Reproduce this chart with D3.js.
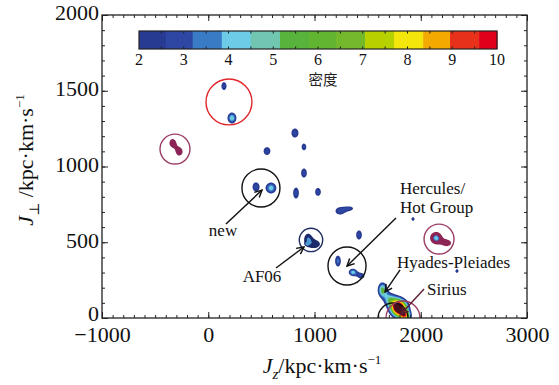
<!DOCTYPE html>
<html>
<head>
<meta charset="utf-8">
<script src="https://cdn.jsdelivr.net/npm/d3@7"></script>
<style>
  body { margin: 0; background: #fff; }
  svg { font-family: 'Liberation Serif', 'DejaVu Serif', serif; }
</style>
</head>
<body>
<svg id="chart" width="559" height="385"></svg>
<script>
// axis ticks
const xTicks = [-1000, 0, 1000, 2000, 3000];
const yTicks = [0, 500, 1000, 1500, 2000];
const barTicks = [2, 3, 4, 5, 6, 7, 8, 9, 10];

// density contour levels and their colours (last one = above the bar)
const densityLevels = [2, 2.6, 3.2, 3.85, 4.5, 5.15, 5.8, 6.4, 7.05, 7.7, 8.35, 8.95, 9.6, 10];
const levelColors = ['#283b93', '#2d47a3', '#3a7bc6', '#6ccbe6', '#71c6b2', '#58b33d', '#62b531',
  '#74b92b', '#b6d000', '#f3e60b', '#f4a900', '#e7311a', '#e1001b', '#4a0e1c'];

// blobs: [Jz, Jperp, half width in Jz, half width in Jperp, peak density]
const fieldBlobs = [
  [148, 1531, 24, 26, 2.8],
  [223, 1320, 42, 36, 4.6],
  [816, 1221, 33, 30, 2.9],
  [901, 1129, 22, 22, 2.8],
  [553, 1102, 32, 26, 2.9],
  [901, 957, 27, 30, 2.9],
  [826, 825, 27, 36, 2.9],
  [1033, 832, 27, 26, 2.9],
  [1240, 706, 42, 23, 2.9],
  [1334, 723, 26, 10, 2.4],
  [449, 865, 32, 30, 3.0],
  [591, 858, 50, 36, 4.4],
  [1927, 653, 15, 12, 2.4],
  [1419, 548, 27, 30, 2.9],
  [2341, 310, 15, 12, 2.4],
  [1221, 376, 27, 36, 3.5],
  [1360, 302, 38, 23, 4.3],
  [1440, 278, 30, 18, 2.8],
  [1640, 185, 45, 50, 5.6],
  [1700, 125, 40, 35, 3.5],
  [1760, 95, 50, 40, 3.6],
  [1800, 62, 100, 72, 11.6],
  [1855, 12, 55, 35, 6.5]
];

// highlighted groups
const maroonBlobs = [
  [-335, 1155, 30, 26, 3.0],
  [-272, 1098, 30, 26, 3.0],
  [2144, 528, 56, 40, 4.6],
  [2247, 495, 38, 20, 3.0]
];
const maroonLevels = [2, 3.9, 4.3];
const maroonColors = ['#8c2456', '#3a7bc6', '#6ccbe6'];

const af06Blobs = [
  [939, 528, 28, 26, 3.0],
  [995, 488, 56, 26, 3.0],
  [930, 488, 14, 8, 3.9]
];
const af06Levels = [2, 3.6];
const af06Colors = ['#1c2a6c', '#4a9bd6'];

// circles: [Jz, Jperp, radius in Jz units, group]
const circles = [
  [195, 1426, 216, 'red'],
  [-313, 1115, 141, 'maroon'],
  [496, 858, 179, 'black'],
  [967, 515, 110, 'navy'],
  [1306, 343, 179, 'black'],
  [2172, 521, 141, 'maroon'],
  [1739, 0, 141, 'black'],
  [1833, 0, 160, 'maroon']
];
const circleColors = { red: '#e2262b', maroon: '#9a3c64', black: '#111', navy: '#1e2b5e' };

// annotations: [lines, text Jz, text Jperp, anchor, arrow from, arrow to, colour]
const notes = [
  [['new'], 139, 541, 'middle', [167, 620], [506, 845], '#111'],
  [['AF06'], 506, 238, 'middle', [638, 330], [901, 469], '#111'],
  [['Hercules/', 'Hot Group'], 1805, 818, 'start', [1767, 660], [1306, 343], '#111'],
  [['Hyades-Pleiades'], 1776, 330, 'start', [1805, 317], [1664, 172], '#111'],
  [['Sirius'], 2059, 152, 'start', [2031, 191], [1814, 26], '#5b1f33']
];

const svg = d3.select('#chart');
const W = 559, H = 385;
const margin = { top: 15, right: 32, bottom: 67, left: 102 };
const pw = W - margin.left - margin.right;
const ph = H - margin.top - margin.bottom;

const x = d3.scaleLinear().domain([-1000, 3000]).range([margin.left, margin.left + pw]);
const y = d3.scaleLinear().domain([0, 2000]).range([margin.top + ph, margin.top]);

svg.append('rect').attr('width', W).attr('height', H).attr('fill', '#fff');

svg.append('defs').append('clipPath').attr('id', 'plotclip')
  .append('rect').attr('x', margin.left).attr('y', margin.top).attr('width', pw).attr('height', ph);

// density grid, one cell per pixel
const nx = Math.round(pw), ny = Math.round(ph);
function densityGrid(blobs) {
  const v = new Float64Array(nx * ny);
  blobs.forEach(([jz, jp, hx, hy, peak]) => {
    const f = Math.sqrt(2 * Math.log(peak / 2));
    const cx = x(jz) - margin.left, cy = y(jp) - margin.top;
    const sx = (x(jz + hx) - x(jz)) / f;
    const sy = (y(jp) - y(jp + hy)) / f;
    const i0 = Math.max(0, Math.floor(cx - 5 * sx)), i1 = Math.min(nx - 1, Math.ceil(cx + 5 * sx));
    const j0 = Math.max(0, Math.floor(cy - 5 * sy)), j1 = Math.min(ny - 1, Math.ceil(cy + 5 * sy));
    for (let j = j0; j <= j1; j++) {
      for (let i = i0; i <= i1; i++) {
        const u = (i + 0.5 - cx) / sx, w = (j + 0.5 - cy) / sy;
        v[j * nx + i] += peak * Math.exp(-0.5 * (u * u + w * w));
      }
    }
  });
  return v;
}

const path = d3.geoPath();
function drawContours(blobs, levels, colors) {
  const c = d3.contours().size([nx, ny]).thresholds(levels)(densityGrid(blobs));
  svg.append('g')
    .attr('clip-path', 'url(#plotclip)')
    .append('g')
    .attr('transform', `translate(${margin.left},${margin.top})`)
    .selectAll('path')
    .data(c)
    .enter()
    .append('path')
    .attr('d', path)
    .attr('fill', (d, i) => colors[i]);
}

drawContours(fieldBlobs, densityLevels, levelColors);
drawContours(maroonBlobs, maroonLevels, maroonColors);
drawContours(af06Blobs, af06Levels, af06Colors);

// circles around the groups
svg.append('g')
  .attr('clip-path', 'url(#plotclip)')
  .selectAll('circle')
  .data(circles)
  .enter()
  .append('circle')
  .attr('cx', d => x(d[0]))
  .attr('cy', d => y(d[1]))
  .attr('r', d => x(d[0] + d[2]) - x(d[0]))
  .attr('fill', 'none')
  .attr('stroke', d => circleColors[d[3]])
  .attr('stroke-width', 1.4);

// axes: minor ticks every 100, major with labels
const fmt = d3.format('d');
function addAxis(axis, tx, ty, values, size, labels) {
  const g = svg.append('g')
    .attr('transform', `translate(${tx},${ty})`)
    .call(axis.tickValues(values).tickSize(size).tickPadding(labels ? 8 : 0)
      .tickFormat(labels ? fmt : ''));
  g.attr('font-family', null).attr('font-size', null);
  g.select('.domain').remove();
  g.selectAll('line').attr('stroke', '#222').attr('stroke-width', 1);
  g.selectAll('text').attr('font-size', 22).attr('fill', '#111');
  return g;
}
const xMinor = d3.range(-1000, 3001, 100);
const yMinor = d3.range(0, 2001, 100);
addAxis(d3.axisBottom(x), 0, y(0), xMinor, -3, false);
const xg = addAxis(d3.axisBottom(x), 0, y(0), xTicks, -6, true);
xg.selectAll('text').attr('dy', '0.74em');
addAxis(d3.axisTop(x), 0, y(2000), xMinor, -3, false);
addAxis(d3.axisTop(x), 0, y(2000), xTicks, -6, false);
addAxis(d3.axisLeft(y), x(-1000), 0, yMinor, -3, false);
const yg = addAxis(d3.axisLeft(y), x(-1000), 0, yTicks, -6, true);
yg.selectAll('text').attr('x', -3).attr('dy', d => d === 0 ? '0.1em' : '0.22em');
addAxis(d3.axisRight(y), x(3000), 0, yMinor, -3, false);
addAxis(d3.axisRight(y), x(3000), 0, yTicks, -6, false);

svg.append('rect')
  .attr('x', margin.left).attr('y', margin.top)
  .attr('width', pw).attr('height', ph)
  .attr('fill', 'none').attr('stroke', '#222').attr('stroke-width', 1.3);

// axis titles
const xt = svg.append('text')
  .attr('x', 322).attr('y', 373)
  .attr('text-anchor', 'middle')
  .attr('font-size', 22).attr('fill', '#111');
xt.append('tspan').attr('font-style', 'italic').text('J');
xt.append('tspan').attr('font-style', 'italic').attr('font-size', 15).attr('dy', 6).text('z');
xt.append('tspan').attr('dy', -6).text('/kpc·km·s');
xt.append('tspan').attr('font-size', 13).attr('dy', -9).text('−1');

const yt = svg.append('text')
  .attr('transform', 'translate(33,160) rotate(-90)')
  .attr('text-anchor', 'middle')
  .attr('font-size', 22).attr('fill', '#111');
yt.append('tspan').attr('font-style', 'italic').text('J');
yt.append('tspan').attr('font-size', 14).attr('dy', 6).text('⊥');
yt.append('tspan').attr('dy', -6).text(' /kpc·km·s');
yt.append('tspan').attr('font-size', 13).attr('dy', -9).text('−1');

// colour bar
const cb = d3.scaleLinear().domain([2, 10]).range([139, 497]);
const cbTop = 31, cbH = 18;
const cbBands = densityLevels.slice(0, -1);
svg.append('g')
  .selectAll('rect')
  .data(cbBands)
  .enter()
  .append('rect')
  .attr('x', (d, i) => cb(d))
  .attr('y', cbTop)
  .attr('width', (d, i) => cb(densityLevels[i + 1]) - cb(d) + 0.5)
  .attr('height', cbH)
  .attr('fill', (d, i) => levelColors[i]);
const cbTickG = svg.append('g');
d3.range(2.5, 10, 0.5).forEach(v => {
  cbTickG.append('line').attr('x1', cb(v)).attr('x2', cb(v)).attr('y1', cbTop).attr('y2', cbTop + 2.5)
    .attr('stroke', '#222').attr('stroke-width', 1);
  cbTickG.append('line').attr('x1', cb(v)).attr('x2', cb(v)).attr('y1', cbTop + cbH).attr('y2', cbTop + cbH - 2.5)
    .attr('stroke', '#222').attr('stroke-width', 1);
});
svg.append('rect')
  .attr('x', cb(2)).attr('y', cbTop).attr('width', cb(10) - cb(2)).attr('height', cbH)
  .attr('fill', 'none').attr('stroke', '#222').attr('stroke-width', 1.2);
svg.append('g')
  .selectAll('text')
  .data(barTicks)
  .enter()
  .append('text')
  .attr('x', d => cb(d))
  .attr('y', 65)
  .attr('text-anchor', 'middle')
  .attr('font-size', 16)
  .attr('fill', '#111')
  .text(d => d);
svg.append('text')
  .attr('x', 323).attr('y', 85)
  .attr('text-anchor', 'middle')
  .attr('font-family', 'Noto Sans CJK SC')
  .attr('font-size', 14.5)
  .attr('fill', '#222')
  .text('密度');

// arrows and labels
const defs = svg.select('defs');
notes.forEach((n, k) => {
  defs.append('marker')
    .attr('id', 'ah' + k)
    .attr('viewBox', '0 0 10 10')
    .attr('refX', 9).attr('refY', 5)
    .attr('markerWidth', 9).attr('markerHeight', 9)
    .attr('markerUnits', 'userSpaceOnUse')
    .attr('orient', 'auto')
    .append('path')
    .attr('d', 'M1,1 L9,5 L1,9')
    .attr('fill', 'none')
    .attr('stroke', n[6])
    .attr('stroke-width', 1.6);
});
const ng = svg.append('g');
notes.forEach(([lines, jz, jp, anchor, from, to, col], k) => {
  ng.append('line')
    .attr('x1', x(from[0])).attr('y1', y(from[1]))
    .attr('x2', x(to[0])).attr('y2', y(to[1]))
    .attr('stroke', col).attr('stroke-width', 1.4)
    .attr('marker-end', `url(#ah${k})`);
  lines.forEach((t, i) => {
    ng.append('text')
      .attr('x', x(jz)).attr('y', y(jp) + i * 19)
      .attr('text-anchor', anchor)
      .attr('font-size', 17)
      .attr('fill', '#111')
      .text(t);
  });
});
</script>
</body>
</html>
